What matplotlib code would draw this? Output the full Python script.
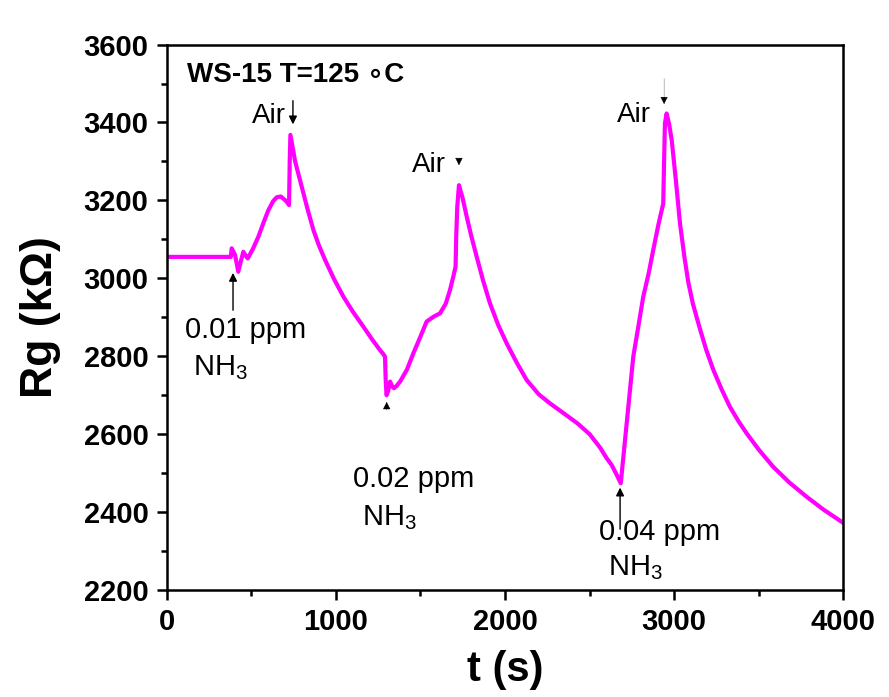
import matplotlib
matplotlib.use('Agg')
import matplotlib.pyplot as plt
from matplotlib.ticker import MultipleLocator

plt.rcParams['font.family'] = ['Liberation Sans', 'DejaVu Sans']
plt.rcParams['mathtext.fontset'] = 'custom'
plt.rcParams['mathtext.rm'] = 'Liberation Sans'
plt.rcParams['mathtext.default'] = 'regular'

# response curve: time (s) and gas resistance (kOhm)
t = [0, 200, 380, 385, 405, 424, 440, 454, 468, 480, 510, 543, 575, 602, 630, 651, 675,
     700, 715, 724, 728, 732, 760, 799, 835, 868, 900, 937, 990, 1045, 1100, 1163, 1215,
     1261, 1280, 1291, 1295, 1300, 1310, 1321, 1334, 1344, 1360, 1380, 1420, 1458, 1500,
     1537, 1580, 1616, 1650, 1675, 1695, 1708, 1712, 1718, 1728, 1750, 1774, 1800, 1833,
     1870, 1911, 1960, 2010, 2070, 2128, 2200, 2266, 2320, 2374, 2430, 2500, 2561, 2601,
     2630, 2655, 2684, 2720, 2758, 2790, 2817, 2850, 2876, 2905, 2935, 2940, 2945, 2955,
     2970, 2985, 3010, 3034, 3060, 3083, 3110, 3152, 3190, 3231, 3280, 3329, 3380, 3428,
     3500, 3585, 3680, 3783, 3880, 3979, 4000]
rg = [3055, 3055, 3055, 3077, 3060, 3017, 3045, 3068, 3058, 3051, 3075, 3107, 3145, 3175,
      3198, 3208, 3210, 3201, 3194, 3188, 3300, 3368, 3300, 3235, 3175, 3124, 3085, 3047,
      2998, 2953, 2915, 2876, 2843, 2816, 2806, 2799, 2740, 2700, 2712, 2735, 2722, 2718,
      2724, 2735, 2765, 2807, 2850, 2889, 2902, 2910, 2935, 2970, 3005, 3030, 3110, 3184,
      3239, 3205, 3158, 3110, 3055, 2995, 2936, 2880, 2833, 2783, 2739, 2702, 2679, 2662,
      2645, 2627, 2600, 2566, 2538, 2521, 2500, 2474, 2632, 2799, 2882, 2953, 3015, 3073,
      3135, 3192, 3300, 3398, 3423, 3395, 3355, 3250, 3141, 3055, 2990, 2935, 2870, 2815,
      2765, 2715, 2670, 2633, 2602, 2560, 2516, 2476, 2439, 2407, 2378, 2372]

fig = plt.figure(figsize=(8.89, 6.97), dpi=100)
ax = fig.add_axes([0.1873, 0.1535, 0.7615, 0.7826])

ax.plot(t, rg, color='#FF00FF', linewidth=3.0, solid_joinstyle='round')

ax.set_xlim(0, 4000)
ax.set_ylim(2200, 3600)
ax.xaxis.set_major_locator(MultipleLocator(1000))
ax.xaxis.set_minor_locator(MultipleLocator(500))
ax.yaxis.set_major_locator(MultipleLocator(200))
ax.yaxis.set_minor_locator(MultipleLocator(100))
ax.tick_params(which='both', direction='out', top=False, right=False, width=1.8)
ax.tick_params(which='major', length=7, labelsize=21, pad=6)
ax.tick_params(which='minor', length=4)
for lab in ax.get_xticklabels() + ax.get_yticklabels():
    lab.set_fontweight('bold')
for sp in ax.spines.values():
    sp.set_linewidth(1.8)

ax.set_xlabel('t (s)', fontsize=30, fontweight='bold', labelpad=10)
ax.set_ylabel('Rg (k\u03a9)', fontsize=32, fontweight='bold', labelpad=16)

ax.text(121, 3504, 'WS-15 T=125 \u2218C', fontsize=20, fontweight='bold', ha='left', va='baseline')

# "Air" markers
ax.text(505, 3398, 'Air', fontsize=20, ha='left', va='baseline')
ax.annotate('', xy=(747, 3388), xytext=(747, 3463),
            arrowprops=dict(arrowstyle='-|>', color='black', lw=1.0, mutation_scale=12))
ax.text(1449, 3273, 'Air', fontsize=20, ha='left', va='baseline')
ax.annotate('', xy=(1728, 3283), xytext=(1728, 3310),
            arrowprops=dict(arrowstyle='-|>', color='black', lw=0.3, mutation_scale=12))
ax.text(2662, 3401, 'Air', fontsize=20, ha='left', va='baseline')
ax.annotate('', xy=(2940, 3440), xytext=(2940, 3520),
            arrowprops=dict(arrowstyle='-|>', color='black', lw=0.2, mutation_scale=12))

# NH3 injection markers
ax.annotate('', xy=(393, 3021), xytext=(393, 2911),
            arrowprops=dict(arrowstyle='-|>', color='black', lw=1.0, mutation_scale=12))
ax.text(109, 2847, '0.01 ppm', fontsize=21, ha='left', va='baseline')
ax.text(157, 2752, 'NH$_3$', fontsize=21, ha='left', va='baseline')

ax.annotate('', xy=(1301, 2690), xytext=(1301, 2655),
            arrowprops=dict(arrowstyle='-|>', color='black', lw=0.3, mutation_scale=12))
ax.text(1102, 2464, '0.02 ppm', fontsize=21, ha='left', va='baseline')
ax.text(1155, 2367, 'NH$_3$', fontsize=21, ha='left', va='baseline')

ax.annotate('', xy=(2680, 2470), xytext=(2680, 2349),
            arrowprops=dict(arrowstyle='-|>', color='black', lw=1.0, mutation_scale=12))
ax.text(2555, 2328, '0.04 ppm', fontsize=21, ha='left', va='baseline')
ax.text(2609, 2238, 'NH$_3$', fontsize=21, ha='left', va='baseline')

fig.savefig('out.png', dpi=100)
